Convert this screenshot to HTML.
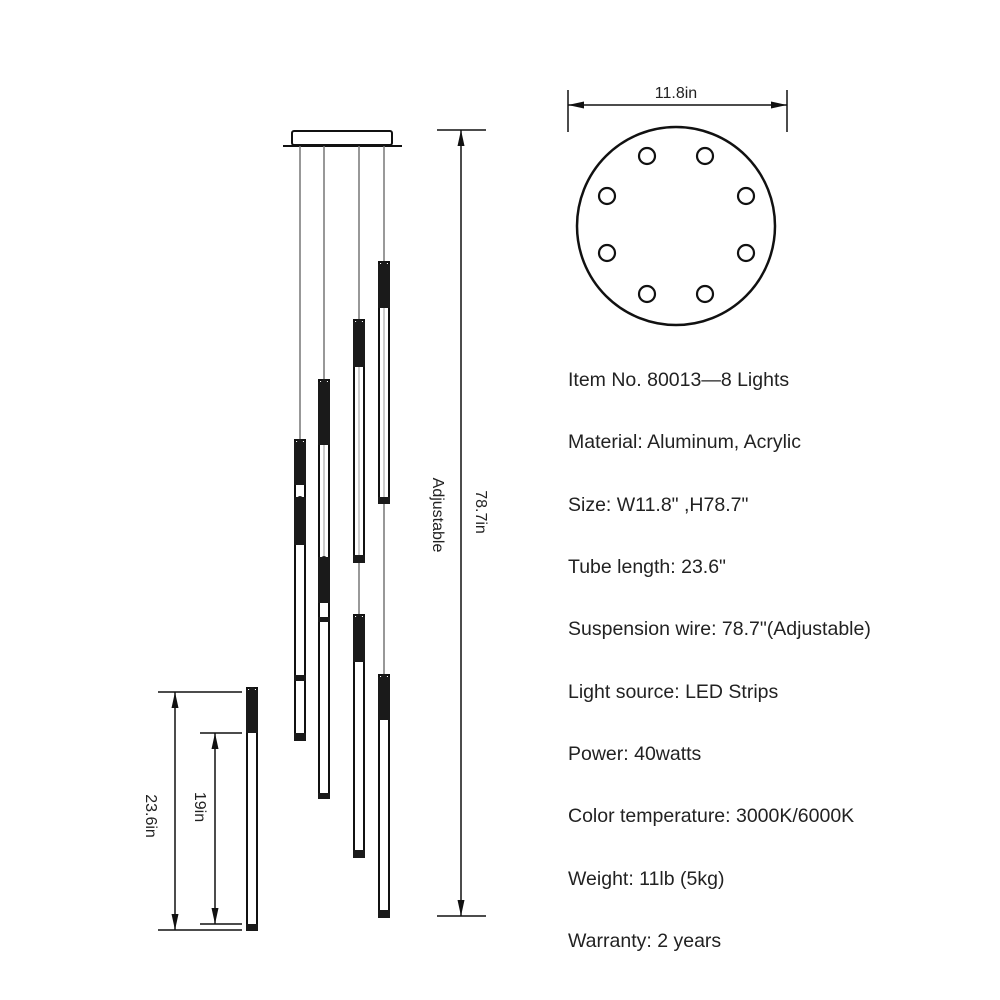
<!DOCTYPE html>
<html><head><style>html,body{margin:0;padding:0;background:#fff}svg{display:block}</style></head>
<body>
<svg width="1000" height="1000" viewBox="0 0 1000 1000" xmlns="http://www.w3.org/2000/svg">
<defs>
<marker id="ah" viewBox="0 0 16 10" refX="16" refY="5" markerWidth="16" markerHeight="10" markerUnits="userSpaceOnUse" orient="auto-start-reverse">
<path d="M0,1.5 L16,5 L0,8.5 z" fill="#111"/></marker>
</defs>
<g stroke="#111" fill="none">
<rect x="292" y="131" width="100" height="14" rx="2" stroke-width="2"/>
<line x1="283" y1="146" x2="402" y2="146" stroke-width="2"/>
<g stroke="#777" stroke-width="1.5">
<line x1="300" y1="146" x2="300" y2="440"/>
<line x1="324" y1="146" x2="324" y2="380"/>
<line x1="359" y1="146" x2="359" y2="320"/>
<line x1="384" y1="146" x2="384" y2="262"/>
<line x1="359" y1="562" x2="359" y2="615"/>
<line x1="384" y1="503" x2="384" y2="675"/>
</g>
</g>
<g fill="#fff" stroke="#111" stroke-width="2">
<rect x="295" y="440" width="10" height="300"/>
<rect x="319" y="380" width="10" height="418"/>
<rect x="354" y="320" width="10" height="242"/>
<rect x="354" y="615" width="10" height="242"/>
<rect x="379" y="262" width="10" height="241"/>
<rect x="379" y="675" width="10" height="242"/>
<rect x="247" y="688" width="10" height="242"/>
</g>
<g stroke="#999" stroke-width="1">
<line x1="324" y1="445" x2="324" y2="557"/>
<line x1="359" y1="367" x2="359" y2="555"/>
<line x1="384" y1="308" x2="384" y2="497"/>
</g>
<g fill="#1a1a1a">
<rect x="294" y="442" width="12" height="43"/><rect x="294" y="497" width="12" height="48"/>
<rect x="294" y="675" width="12" height="6"/><rect x="294" y="733" width="12" height="8"/>
<circle cx="300" cy="442" r="3"/><circle cx="300" cy="499" r="3"/>
<rect x="318" y="382" width="12" height="63"/><rect x="318" y="557" width="12" height="46"/>
<rect x="318" y="617" width="12" height="5"/><rect x="318" y="793" width="12" height="6"/>
<circle cx="324" cy="382" r="3"/><circle cx="324" cy="559" r="3"/>
<rect x="353" y="322" width="12" height="45"/><rect x="353" y="555" width="12" height="8"/>
<rect x="353" y="617" width="12" height="45"/><rect x="353" y="850" width="12" height="8"/>
<circle cx="359" cy="322" r="3"/><circle cx="359" cy="617" r="3"/>
<rect x="378" y="264" width="12" height="44"/><rect x="378" y="497" width="12" height="7"/>
<rect x="378" y="677" width="12" height="43"/><rect x="378" y="910" width="12" height="8"/>
<circle cx="384" cy="264" r="3"/><circle cx="384" cy="677" r="3"/>
<rect x="246" y="690" width="12" height="43"/><rect x="246" y="924" width="12" height="7"/>
<circle cx="252" cy="690" r="3"/>
</g>
<g stroke="#111" stroke-width="1.5">
<line x1="437" y1="130" x2="486" y2="130"/>
<line x1="437" y1="916" x2="486" y2="916"/>
<line x1="461" y1="130" x2="461" y2="916" marker-start="url(#ah)" marker-end="url(#ah)"/>
<line x1="158" y1="692" x2="242" y2="692"/>
<line x1="158" y1="930" x2="242" y2="930"/>
<line x1="175" y1="692" x2="175" y2="930" marker-start="url(#ah)" marker-end="url(#ah)"/>
<line x1="200" y1="733" x2="242" y2="733"/>
<line x1="200" y1="924" x2="242" y2="924"/>
<line x1="215" y1="733" x2="215" y2="924" marker-start="url(#ah)" marker-end="url(#ah)"/>
<line x1="568" y1="90" x2="568" y2="132"/>
<line x1="787" y1="90" x2="787" y2="132"/>
<line x1="568" y1="105" x2="787" y2="105" marker-start="url(#ah)" marker-end="url(#ah)"/>
</g>
<g font-family="Liberation Sans, sans-serif" font-size="16" fill="#222" text-anchor="middle">
<text transform="translate(476,512) rotate(90)">78.7in</text>
<text transform="translate(433,515) rotate(90)">Adjustable</text>
<text transform="translate(146,816) rotate(90)">23.6in</text>
<text transform="translate(195,807) rotate(90)">19in</text>
<text x="676" y="98">11.8in</text>
</g>
<g stroke="#111" fill="none">
<circle cx="676" cy="226" r="99" stroke-width="2.5"/>
<g stroke-width="2.2">
<circle cx="647" cy="156" r="8"/><circle cx="705" cy="156" r="8"/>
<circle cx="607" cy="196" r="8"/><circle cx="746" cy="196" r="8"/>
<circle cx="607" cy="253" r="8"/><circle cx="746" cy="253" r="8"/>
<circle cx="647" cy="294" r="8"/><circle cx="705" cy="294" r="8"/>
</g>
</g>
<g font-family="Liberation Sans, sans-serif" font-size="19.5" fill="#222">
<text x="568" y="386">Item No. 80013—8 Lights</text>
<text x="568" y="448">Material: Aluminum, Acrylic</text>
<text x="568" y="511">Size: W11.8" ,H78.7"</text>
<text x="568" y="573">Tube length: 23.6"</text>
<text x="568" y="635">Suspension wire: 78.7"(Adjustable)</text>
<text x="568" y="698">Light source: LED Strips</text>
<text x="568" y="760">Power: 40watts</text>
<text x="568" y="822">Color temperature: 3000K/6000K</text>
<text x="568" y="885">Weight: 11lb (5kg)</text>
<text x="568" y="947">Warranty: 2 years</text>
</g>
</svg>
</body></html>
